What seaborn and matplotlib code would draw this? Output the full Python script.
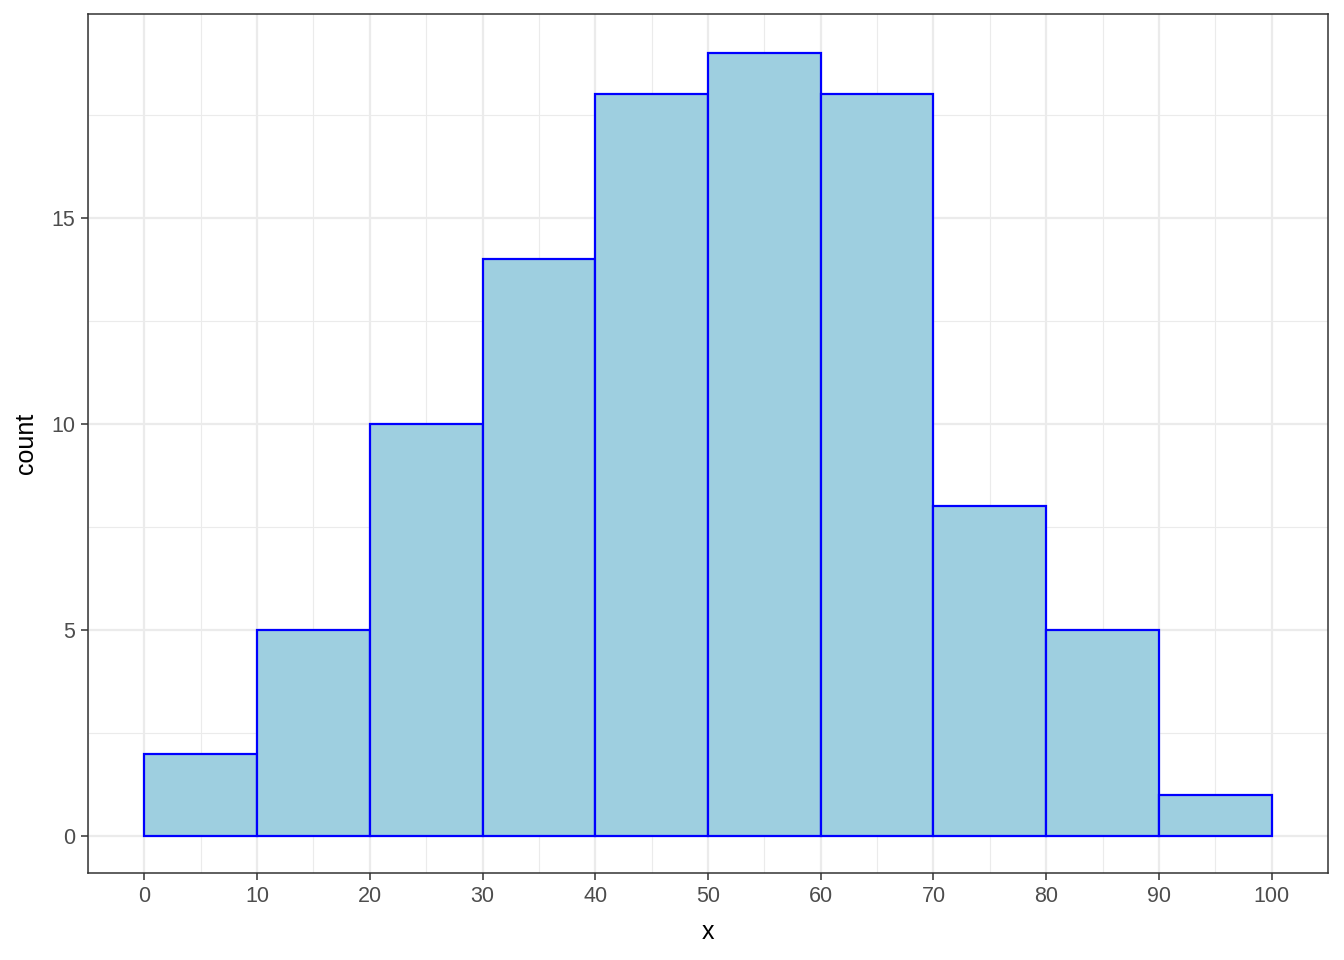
import numpy as np
import pandas as pd
import matplotlib
matplotlib.use("Agg")
import matplotlib.pyplot as plt
import seaborn as sns
from matplotlib.ticker import MultipleLocator

bin_edges = [0, 10, 20, 30, 40, 50, 60, 70, 80, 90, 100]
counts = [2, 5, 10, 14, 18, 19, 18, 8, 5, 1]
x_ticks = [0, 10, 20, 30, 40, 50, 60, 70, 80, 90, 100]
y_ticks = [0, 5, 10, 15]

centers = [(a + b) / 2 for a, b in zip(bin_edges[:-1], bin_edges[1:])]
df = pd.DataFrame({"x": centers, "w": counts})

sns.set_style("white")
plt.rcParams['font.family'] = ['Liberation Sans', 'DejaVu Sans']

fig = plt.figure(figsize=(13.44, 9.6), dpi=100)
ax = fig.add_axes([88/1344, 1 - 873/960, 1240/1344, (873-14)/960])

ax.set_axisbelow(True)
ax.xaxis.set_minor_locator(MultipleLocator(5))
ax.yaxis.set_minor_locator(MultipleLocator(2.5))
ax.grid(which='major', color='#EBEBEB', linewidth=1.6)
ax.grid(which='minor', color='#EBEBEB', linewidth=0.8)

sns.histplot(data=df, x="x", weights="w", bins=bin_edges, ax=ax,
             color='#9ECFE0', edgecolor='blue', linewidth=1.6, alpha=1)

ax.set_xlim(-5, 105)
ax.set_ylim(-0.898, 19.946)
ax.set_xticks(x_ticks)
ax.set_yticks(y_ticks)
ax.tick_params(axis='both', which='major', length=5, width=1.1, color='#333333',
               labelsize=15.5, labelcolor='#4D4D4D', pad=4, direction='out',
               bottom=True, left=True)
ax.tick_params(which='minor', length=0)
for s in ax.spines.values():
    s.set_color('#333333')
    s.set_linewidth(1.1)
ax.set_xlabel("x", fontsize=18, color='black', labelpad=10)
ax.set_ylabel("count", fontsize=18, color='black', labelpad=10)

fig.savefig("out.png", dpi=100)
